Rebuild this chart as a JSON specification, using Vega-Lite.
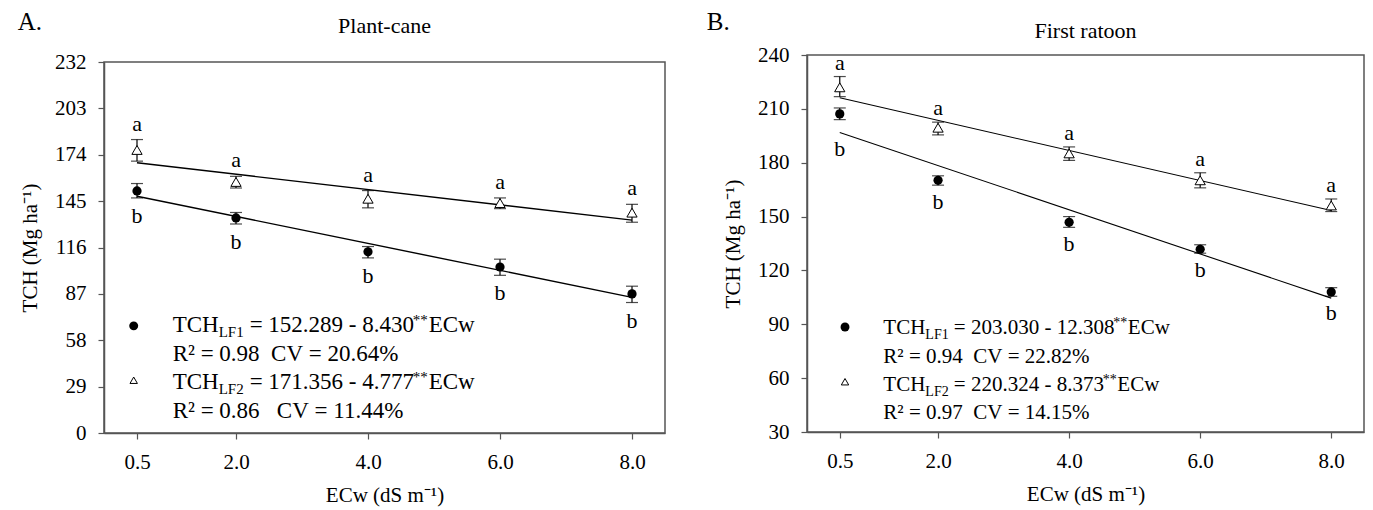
{
  "$schema": "https://vega.github.io/schema/vega-lite/v6.json",
  "background": "white",
  "padding": {"left": 17, "top": 10, "right": 5, "bottom": 2},
  "config": {
    "font": "Liberation Serif",
    "view": {"stroke": "#555555", "strokeWidth": 1.5},
    "axis": {
      "labelFont": "Liberation Serif", "titleFont": "Liberation Serif",
      "labelFontSize": 21, "titleFontSize": 21, "titleFontWeight": "normal",
      "labelColor": "black", "titleColor": "black",
      "domainColor": "#555555", "domainWidth": 1.5, "tickColor": "#555555", "tickWidth": 1.2,
      "tickSize": 6, "grid": false, "labelPadding": 12
    },
    "text": {"font": "Liberation Serif", "fill": "black"},
    "title": {"font": "Liberation Serif", "fontWeight": "normal", "fontSize": 22, "color": "black"}
  },
  "datasets": {
    "pts": [
      {"panel": "A", "lf": "LF1", "ecw": 0.5, "mean": 151.4, "lo": 147.0, "hi": 156.0, "letter": "b"},
      {"panel": "A", "lf": "LF1", "ecw": 2.0, "mean": 134.5, "lo": 130.7, "hi": 137.9, "letter": "b"},
      {"panel": "A", "lf": "LF1", "ecw": 4.0, "mean": 113.3, "lo": 109.5, "hi": 116.6, "letter": "b"},
      {"panel": "A", "lf": "LF1", "ecw": 6.0, "mean": 103.8, "lo": 98.6, "hi": 108.7, "letter": "b"},
      {"panel": "A", "lf": "LF1", "ecw": 8.0, "mean": 87.0, "lo": 81.6, "hi": 91.8, "letter": "b"},
      {"panel": "A", "lf": "LF2", "ecw": 0.5, "mean": 177.0, "lo": 170.0, "hi": 183.5, "letter": "a"},
      {"panel": "A", "lf": "LF2", "ecw": 2.0, "mean": 157.0, "lo": 153.2, "hi": 160.5, "letter": "a"},
      {"panel": "A", "lf": "LF2", "ecw": 4.0, "mean": 146.5, "lo": 140.8, "hi": 151.6, "letter": "a"},
      {"panel": "A", "lf": "LF2", "ecw": 6.0, "mean": 143.8, "lo": 140.3, "hi": 147.0, "letter": "a"},
      {"panel": "A", "lf": "LF2", "ecw": 8.0, "mean": 137.8, "lo": 131.8, "hi": 143.0, "letter": "a"},
      {"panel": "B", "lf": "LF1", "ecw": 0.5, "mean": 207.2, "lo": 204.0, "hi": 210.5, "letter": "b"},
      {"panel": "B", "lf": "LF1", "ecw": 2.0, "mean": 170.2, "lo": 167.5, "hi": 172.7, "letter": "b"},
      {"panel": "B", "lf": "LF1", "ecw": 4.0, "mean": 146.8, "lo": 144.0, "hi": 150.0, "letter": "b"},
      {"panel": "B", "lf": "LF1", "ecw": 6.0, "mean": 131.8, "lo": 129.6, "hi": 134.3, "letter": "b"},
      {"panel": "B", "lf": "LF1", "ecw": 8.0, "mean": 108.0, "lo": 105.6, "hi": 110.4, "letter": "b"},
      {"panel": "B", "lf": "LF2", "ecw": 0.5, "mean": 222.0, "lo": 216.8, "hi": 228.0, "letter": "a"},
      {"panel": "B", "lf": "LF2", "ecw": 2.0, "mean": 199.5, "lo": 195.5, "hi": 202.6, "letter": "a"},
      {"panel": "B", "lf": "LF2", "ecw": 4.0, "mean": 185.2, "lo": 181.3, "hi": 188.8, "letter": "a"},
      {"panel": "B", "lf": "LF2", "ecw": 6.0, "mean": 170.2, "lo": 166.0, "hi": 174.4, "letter": "a"},
      {"panel": "B", "lf": "LF2", "ecw": 8.0, "mean": 156.2, "lo": 152.8, "hi": 159.8, "letter": "a"}
    ],
    "fit": [
      {"panel": "A", "lf": "LF1", "ecw": 0.5, "fit": 148.07},
      {"panel": "A", "lf": "LF1", "ecw": 8.0, "fit": 84.85},
      {"panel": "A", "lf": "LF2", "ecw": 0.5, "fit": 168.97},
      {"panel": "A", "lf": "LF2", "ecw": 8.0, "fit": 133.14},
      {"panel": "B", "lf": "LF1", "ecw": 0.5, "fit": 196.88},
      {"panel": "B", "lf": "LF1", "ecw": 8.0, "fit": 104.57},
      {"panel": "B", "lf": "LF2", "ecw": 0.5, "fit": 216.14},
      {"panel": "B", "lf": "LF2", "ecw": 8.0, "fit": 153.34}
    ],
    "leg": [
      {"panel": "A", "base": ["TCH", "R²\u00a0=\u00a00.98\u00a0\u00a0CV\u00a0=\u00a020.64%", "TCH", "R²\u00a0=\u00a00.86\u00a0\u00a0\u00a0CV\u00a0=\u00a011.44%"], "sub1": "LF1", "sub2": "LF2", "eq1": "=\u00a0152.289\u00a0-\u00a08.430", "eq2": "=\u00a0171.356\u00a0-\u00a04.777", "sig": "**", "var": "ECw"},
      {"panel": "B", "base": ["TCH", "R²\u00a0=\u00a00.94\u00a0\u00a0CV\u00a0=\u00a022.82%", "TCH", "R²\u00a0=\u00a00.97\u00a0\u00a0CV\u00a0=\u00a014.15%"], "sub1": "LF1", "sub2": "LF2", "eq1": "=\u00a0203.030\u00a0-\u00a012.308", "eq2": "=\u00a0220.324\u00a0-\u00a08.373", "sig": "**", "var": "ECw"}
    ]
  },
  "spacing": 40,
  "hconcat": [
    {
      "title": {"text": "A.", "anchor": "start", "fontSize": 25, "offset": -20, "dx": -1},
      "spacing": -6,
      "vconcat": [
        {
          "width": 561, "height": 1,
          "view": {"stroke": null},
          "title": {"text": "Plant-cane", "offset": 17},
          "data": {"values": []},
          "mark": "point"
        },
        {
          "width": 561, "height": 371,
          "layer": [
            {
              "data": {"name": "pts"},
              "transform": [{"filter": "datum.panel === 'A'"}],
              "mark": {"type": "rule", "color": "black", "strokeWidth": 1.2},
              "encoding": {
                "x": {"field": "ecw", "type": "quantitative", "title": "ECw (dS m⁻¹)", "scale": {"domain": [0, 8.5], "nice": false, "zero": false}, "axis": {"values": [0.5, 2, 4, 6, 8], "format": ".1f", "titlePadding": 12}},
                "y": {"field": "lo", "type": "quantitative", "title": "TCH (Mg ha⁻¹)", "scale": {"domain": [0, 232], "nice": false}, "axis": {"values": [0, 29, 58, 87, 116, 145, 174, 203, 232], "titlePadding": 14}},
                "y2": {"field": "hi"}
              }
            },
            {
              "data": {"name": "pts"},
              "transform": [{"filter": "datum.panel === 'A'"}],
              "mark": {"type": "tick", "orient": "horizontal", "color": "black", "size": 12, "thickness": 1.2},
              "encoding": {"x": {"field": "ecw", "type": "quantitative", "title": "ECw (dS m⁻¹)"}, "y": {"field": "lo", "type": "quantitative", "title": "TCH (Mg ha⁻¹)"}}
            },
            {
              "data": {"name": "pts"},
              "transform": [{"filter": "datum.panel === 'A'"}],
              "mark": {"type": "tick", "orient": "horizontal", "color": "black", "size": 12, "thickness": 1.2},
              "encoding": {"x": {"field": "ecw", "type": "quantitative", "title": "ECw (dS m⁻¹)"}, "y": {"field": "hi", "type": "quantitative", "title": "TCH (Mg ha⁻¹)"}}
            },
            {
              "data": {"name": "fit"},
              "transform": [{"filter": "datum.panel === 'A'"}],
              "mark": {"type": "line", "color": "black", "strokeWidth": 1.4},
              "encoding": {"x": {"field": "ecw", "type": "quantitative", "title": "ECw (dS m⁻¹)"}, "y": {"field": "fit", "type": "quantitative", "title": "TCH (Mg ha⁻¹)"}, "detail": {"field": "lf"}}
            },
            {
              "data": {"name": "pts"},
              "transform": [{"filter": "datum.panel === 'A' && datum.lf === 'LF1'"}],
              "mark": {"type": "point", "shape": "circle", "filled": true, "color": "black", "size": 85, "opacity": 1},
              "encoding": {"x": {"field": "ecw", "type": "quantitative", "title": "ECw (dS m⁻¹)"}, "y": {"field": "mean", "type": "quantitative", "title": "TCH (Mg ha⁻¹)"}}
            },
            {
              "data": {"name": "pts"},
              "transform": [{"filter": "datum.panel === 'A' && datum.lf === 'LF2'"}],
              "mark": {"type": "point", "shape": "triangle-up", "filled": true, "fill": "white", "stroke": "black", "strokeWidth": 1, "size": 105, "opacity": 1},
              "encoding": {"x": {"field": "ecw", "type": "quantitative", "title": "ECw (dS m⁻¹)"}, "y": {"field": "mean", "type": "quantitative", "title": "TCH (Mg ha⁻¹)"}}
            },
            {
              "data": {"name": "pts"},
              "transform": [{"filter": "datum.panel === 'A' && datum.lf === 'LF2'"}],
              "mark": {"type": "text", "fontSize": 22, "color": "black", "baseline": "middle", "dy": -16},
              "encoding": {"x": {"field": "ecw", "type": "quantitative", "title": "ECw (dS m⁻¹)"}, "y": {"field": "hi", "type": "quantitative", "title": "TCH (Mg ha⁻¹)"}, "text": {"field": "letter"}}
            },
            {
              "data": {"name": "pts"},
              "transform": [{"filter": "datum.panel === 'A' && datum.lf === 'LF1'"}],
              "mark": {"type": "text", "fontSize": 22, "color": "black", "baseline": "middle", "dy": 18},
              "encoding": {"x": {"field": "ecw", "type": "quantitative", "title": "ECw (dS m⁻¹)"}, "y": {"field": "lo", "type": "quantitative", "title": "TCH (Mg ha⁻¹)"}, "text": {"field": "letter"}}
            },
            {
              "data": {"name": "leg"},
              "transform": [{"filter": "datum.panel === 'A'"}],
              "mark": {"type": "point", "shape": "circle", "filled": true, "color": "black", "size": 80, "opacity": 1},
              "encoding": {"x": {"datum": 0.45, "type": "quantitative", "title": "ECw (dS m⁻¹)"}, "y": {"datum": 67, "type": "quantitative", "title": "TCH (Mg ha⁻¹)"}}
            },
            {
              "data": {"name": "leg"},
              "transform": [{"filter": "datum.panel === 'A'"}],
              "mark": {"type": "point", "shape": "triangle-up", "filled": true, "fill": "white", "stroke": "black", "strokeWidth": 1, "size": 55, "opacity": 1},
              "encoding": {"x": {"datum": 0.45, "type": "quantitative", "title": "ECw (dS m⁻¹)"}, "y": {"datum": 33, "type": "quantitative", "title": "TCH (Mg ha⁻¹)"}}
            },
            {
              "data": {"name": "leg"},
              "transform": [{"filter": "datum.panel === 'A'"}],
              "mark": {"type": "text", "align": "left", "baseline": "top", "fontSize": 23, "lineHeight": 28.4, "color": "black"},
              "encoding": {"x": {"datum": 1.04, "type": "quantitative", "title": "ECw (dS m⁻¹)"}, "y": {"datum": 74.2, "type": "quantitative", "title": "TCH (Mg ha⁻¹)"}, "text": {"field": "base"}}
            },
            {
              "data": {"name": "leg"},
              "transform": [{"filter": "datum.panel === 'A'"}],
              "mark": {"type": "text", "align": "left", "baseline": "top", "fontSize": 15, "color": "black", "dx": 46, "dy": 11},
              "encoding": {"x": {"datum": 1.04, "type": "quantitative", "title": "ECw (dS m⁻¹)"}, "y": {"datum": 74.2, "type": "quantitative", "title": "TCH (Mg ha⁻¹)"}, "text": {"field": "sub1"}}
            },
            {
              "data": {"name": "leg"},
              "transform": [{"filter": "datum.panel === 'A'"}],
              "mark": {"type": "text", "align": "left", "baseline": "top", "fontSize": 15, "color": "black", "dx": 46, "dy": 11},
              "encoding": {"x": {"datum": 1.04, "type": "quantitative", "title": "ECw (dS m⁻¹)"}, "y": {"datum": 38.68, "type": "quantitative", "title": "TCH (Mg ha⁻¹)"}, "text": {"field": "sub2"}}
            },
            {
              "data": {"name": "leg"},
              "transform": [{"filter": "datum.panel === 'A'"}],
              "mark": {"type": "text", "align": "left", "baseline": "top", "fontSize": 23, "color": "black", "dx": 77},
              "encoding": {"x": {"datum": 1.04, "type": "quantitative", "title": "ECw (dS m⁻¹)"}, "y": {"datum": 74.2, "type": "quantitative", "title": "TCH (Mg ha⁻¹)"}, "text": {"field": "eq1"}}
            },
            {
              "data": {"name": "leg"},
              "transform": [{"filter": "datum.panel === 'A'"}],
              "mark": {"type": "text", "align": "left", "baseline": "top", "fontSize": 23, "color": "black", "dx": 77},
              "encoding": {"x": {"datum": 1.04, "type": "quantitative", "title": "ECw (dS m⁻¹)"}, "y": {"datum": 38.68, "type": "quantitative", "title": "TCH (Mg ha⁻¹)"}, "text": {"field": "eq2"}}
            },
            {
              "data": {"name": "leg"},
              "transform": [{"filter": "datum.panel === 'A'"}],
              "mark": {"type": "text", "align": "left", "baseline": "top", "fontSize": 15, "color": "black", "fill": "black", "dx": 240, "dy": -1},
              "encoding": {"x": {"datum": 1.04, "type": "quantitative", "title": "ECw (dS m⁻¹)"}, "y": {"datum": 74.2, "type": "quantitative", "title": "TCH (Mg ha⁻¹)"}, "text": {"field": "sig"}}
            },
            {
              "data": {"name": "leg"},
              "transform": [{"filter": "datum.panel === 'A'"}],
              "mark": {"type": "text", "align": "left", "baseline": "top", "fontSize": 15, "color": "black", "fill": "black", "dx": 240, "dy": -1},
              "encoding": {"x": {"datum": 1.04, "type": "quantitative", "title": "ECw (dS m⁻¹)"}, "y": {"datum": 38.68, "type": "quantitative", "title": "TCH (Mg ha⁻¹)"}, "text": {"field": "sig"}}
            },
            {
              "data": {"name": "leg"},
              "transform": [{"filter": "datum.panel === 'A'"}],
              "mark": {"type": "text", "align": "left", "baseline": "top", "fontSize": 23, "color": "black", "dx": 256},
              "encoding": {"x": {"datum": 1.04, "type": "quantitative", "title": "ECw (dS m⁻¹)"}, "y": {"datum": 74.2, "type": "quantitative", "title": "TCH (Mg ha⁻¹)"}, "text": {"field": "var"}}
            },
            {
              "data": {"name": "leg"},
              "transform": [{"filter": "datum.panel === 'A'"}],
              "mark": {"type": "text", "align": "left", "baseline": "top", "fontSize": 23, "color": "black", "dx": 256},
              "encoding": {"x": {"datum": 1.04, "type": "quantitative", "title": "ECw (dS m⁻¹)"}, "y": {"datum": 38.68, "type": "quantitative", "title": "TCH (Mg ha⁻¹)"}, "text": {"field": "var"}}
            }
          ]
        }
      ]
    },
    {
      "title": {"text": "B.", "anchor": "start", "fontSize": 25, "offset": -16, "dx": -15},
      "vconcat": [
        {
          "width": 557, "height": 377,
          "title": {"text": "First ratoon", "offset": 1},
          "layer": [
            {
              "data": {"name": "pts"},
              "transform": [{"filter": "datum.panel === 'B'"}],
              "mark": {"type": "rule", "color": "black", "strokeWidth": 1.2},
              "encoding": {
                "x": {"field": "ecw", "type": "quantitative", "title": "ECw (dS m⁻¹)", "scale": {"domain": [0, 8.5], "nice": false, "zero": false}, "axis": {"values": [0.5, 2, 4, 6, 8], "format": ".1f", "titlePadding": 12}},
                "y": {"field": "lo", "type": "quantitative", "title": "TCH (Mg ha⁻¹)", "scale": {"domain": [30, 240], "nice": false, "zero": false}, "axis": {"values": [30, 60, 90, 120, 150, 180, 210, 240], "titlePadding": 14}},
                "y2": {"field": "hi"}
              }
            },
            {
              "data": {"name": "pts"},
              "transform": [{"filter": "datum.panel === 'B'"}],
              "mark": {"type": "tick", "orient": "horizontal", "color": "black", "size": 12, "thickness": 1.2},
              "encoding": {"x": {"field": "ecw", "type": "quantitative", "title": "ECw (dS m⁻¹)"}, "y": {"field": "lo", "type": "quantitative", "title": "TCH (Mg ha⁻¹)"}}
            },
            {
              "data": {"name": "pts"},
              "transform": [{"filter": "datum.panel === 'B'"}],
              "mark": {"type": "tick", "orient": "horizontal", "color": "black", "size": 12, "thickness": 1.2},
              "encoding": {"x": {"field": "ecw", "type": "quantitative", "title": "ECw (dS m⁻¹)"}, "y": {"field": "hi", "type": "quantitative", "title": "TCH (Mg ha⁻¹)"}}
            },
            {
              "data": {"name": "fit"},
              "transform": [{"filter": "datum.panel === 'B'"}],
              "mark": {"type": "line", "color": "black", "strokeWidth": 1.1},
              "encoding": {"x": {"field": "ecw", "type": "quantitative", "title": "ECw (dS m⁻¹)"}, "y": {"field": "fit", "type": "quantitative", "title": "TCH (Mg ha⁻¹)"}, "detail": {"field": "lf"}}
            },
            {
              "data": {"name": "pts"},
              "transform": [{"filter": "datum.panel === 'B' && datum.lf === 'LF1'"}],
              "mark": {"type": "point", "shape": "circle", "filled": true, "color": "black", "size": 85, "opacity": 1},
              "encoding": {"x": {"field": "ecw", "type": "quantitative", "title": "ECw (dS m⁻¹)"}, "y": {"field": "mean", "type": "quantitative", "title": "TCH (Mg ha⁻¹)"}}
            },
            {
              "data": {"name": "pts"},
              "transform": [{"filter": "datum.panel === 'B' && datum.lf === 'LF2'"}],
              "mark": {"type": "point", "shape": "triangle-up", "filled": true, "fill": "white", "stroke": "black", "strokeWidth": 1, "size": 105, "opacity": 1},
              "encoding": {"x": {"field": "ecw", "type": "quantitative", "title": "ECw (dS m⁻¹)"}, "y": {"field": "mean", "type": "quantitative", "title": "TCH (Mg ha⁻¹)"}}
            },
            {
              "data": {"name": "pts"},
              "transform": [{"filter": "datum.panel === 'B' && datum.lf === 'LF2'"}],
              "mark": {"type": "text", "fontSize": 22, "color": "black", "baseline": "middle", "dy": -14},
              "encoding": {"x": {"field": "ecw", "type": "quantitative", "title": "ECw (dS m⁻¹)"}, "y": {"field": "hi", "type": "quantitative", "title": "TCH (Mg ha⁻¹)"}, "text": {"field": "letter"}}
            },
            {
              "data": {"name": "pts"},
              "transform": [{"filter": "datum.panel === 'B' && datum.lf === 'LF1' && datum.ecw > 1"}],
              "mark": {"type": "text", "fontSize": 22, "color": "black", "baseline": "middle", "dy": 17},
              "encoding": {"x": {"field": "ecw", "type": "quantitative", "title": "ECw (dS m⁻¹)"}, "y": {"field": "lo", "type": "quantitative", "title": "TCH (Mg ha⁻¹)"}, "text": {"field": "letter"}}
            },
            {
              "data": {"name": "pts"},
              "transform": [{"filter": "datum.panel === 'B' && datum.lf === 'LF1' && datum.ecw < 1"}],
              "mark": {"type": "text", "fontSize": 22, "color": "black", "baseline": "middle", "dy": 29},
              "encoding": {"x": {"field": "ecw", "type": "quantitative", "title": "ECw (dS m⁻¹)"}, "y": {"field": "lo", "type": "quantitative", "title": "TCH (Mg ha⁻¹)"}, "text": {"field": "letter"}}
            },
            {
              "data": {"name": "leg"},
              "transform": [{"filter": "datum.panel === 'B'"}],
              "mark": {"type": "point", "shape": "circle", "filled": true, "color": "black", "size": 80, "opacity": 1},
              "encoding": {"x": {"datum": 0.58, "type": "quantitative", "title": "ECw (dS m⁻¹)"}, "y": {"datum": 88.5, "type": "quantitative", "title": "TCH (Mg ha⁻¹)"}}
            },
            {
              "data": {"name": "leg"},
              "transform": [{"filter": "datum.panel === 'B'"}],
              "mark": {"type": "point", "shape": "triangle-up", "filled": true, "fill": "white", "stroke": "black", "strokeWidth": 1, "size": 55, "opacity": 1},
              "encoding": {"x": {"datum": 0.58, "type": "quantitative", "title": "ECw (dS m⁻¹)"}, "y": {"datum": 58, "type": "quantitative", "title": "TCH (Mg ha⁻¹)"}}
            },
            {
              "data": {"name": "leg"},
              "transform": [{"filter": "datum.panel === 'B'"}],
              "mark": {"type": "text", "align": "left", "baseline": "top", "fontSize": 21, "lineHeight": 28.4, "color": "black"},
              "encoding": {"x": {"datum": 1.165, "type": "quantitative", "title": "ECw (dS m⁻¹)"}, "y": {"datum": 93.9, "type": "quantitative", "title": "TCH (Mg ha⁻¹)"}, "text": {"field": "base"}}
            },
            {
              "data": {"name": "leg"},
              "transform": [{"filter": "datum.panel === 'B'"}],
              "mark": {"type": "text", "align": "left", "baseline": "top", "fontSize": 14, "color": "black", "dx": 42, "dy": 10.5},
              "encoding": {"x": {"datum": 1.165, "type": "quantitative", "title": "ECw (dS m⁻¹)"}, "y": {"datum": 93.9, "type": "quantitative", "title": "TCH (Mg ha⁻¹)"}, "text": {"field": "sub1"}}
            },
            {
              "data": {"name": "leg"},
              "transform": [{"filter": "datum.panel === 'B'"}],
              "mark": {"type": "text", "align": "left", "baseline": "top", "fontSize": 14, "color": "black", "dx": 42, "dy": 10.5},
              "encoding": {"x": {"datum": 1.165, "type": "quantitative", "title": "ECw (dS m⁻¹)"}, "y": {"datum": 62.26, "type": "quantitative", "title": "TCH (Mg ha⁻¹)"}, "text": {"field": "sub2"}}
            },
            {
              "data": {"name": "leg"},
              "transform": [{"filter": "datum.panel === 'B'"}],
              "mark": {"type": "text", "align": "left", "baseline": "top", "fontSize": 21, "color": "black", "dx": 70.5},
              "encoding": {"x": {"datum": 1.165, "type": "quantitative", "title": "ECw (dS m⁻¹)"}, "y": {"datum": 93.9, "type": "quantitative", "title": "TCH (Mg ha⁻¹)"}, "text": {"field": "eq1"}}
            },
            {
              "data": {"name": "leg"},
              "transform": [{"filter": "datum.panel === 'B'"}],
              "mark": {"type": "text", "align": "left", "baseline": "top", "fontSize": 21, "color": "black", "dx": 70.5},
              "encoding": {"x": {"datum": 1.165, "type": "quantitative", "title": "ECw (dS m⁻¹)"}, "y": {"datum": 62.26, "type": "quantitative", "title": "TCH (Mg ha⁻¹)"}, "text": {"field": "eq2"}}
            },
            {
              "data": {"name": "leg"},
              "transform": [{"filter": "datum.panel === 'B'"}],
              "mark": {"type": "text", "align": "left", "baseline": "top", "fontSize": 14, "color": "black", "fill": "black", "dx": 230, "dy": -1.5},
              "encoding": {"x": {"datum": 1.165, "type": "quantitative", "title": "ECw (dS m⁻¹)"}, "y": {"datum": 93.9, "type": "quantitative", "title": "TCH (Mg ha⁻¹)"}, "text": {"field": "sig"}}
            },
            {
              "data": {"name": "leg"},
              "transform": [{"filter": "datum.panel === 'B'"}],
              "mark": {"type": "text", "align": "left", "baseline": "top", "fontSize": 21, "color": "black", "dx": 244.5},
              "encoding": {"x": {"datum": 1.165, "type": "quantitative", "title": "ECw (dS m⁻¹)"}, "y": {"datum": 93.9, "type": "quantitative", "title": "TCH (Mg ha⁻¹)"}, "text": {"field": "var"}}
            },
            {
              "data": {"name": "leg"},
              "transform": [{"filter": "datum.panel === 'B'"}],
              "mark": {"type": "text", "align": "left", "baseline": "top", "fontSize": 14, "color": "black", "fill": "black", "dx": 219.5, "dy": -1.5},
              "encoding": {"x": {"datum": 1.165, "type": "quantitative", "title": "ECw (dS m⁻¹)"}, "y": {"datum": 62.26, "type": "quantitative", "title": "TCH (Mg ha⁻¹)"}, "text": {"field": "sig"}}
            },
            {
              "data": {"name": "leg"},
              "transform": [{"filter": "datum.panel === 'B'"}],
              "mark": {"type": "text", "align": "left", "baseline": "top", "fontSize": 21, "color": "black", "dx": 234},
              "encoding": {"x": {"datum": 1.165, "type": "quantitative", "title": "ECw (dS m⁻¹)"}, "y": {"datum": 62.26, "type": "quantitative", "title": "TCH (Mg ha⁻¹)"}, "text": {"field": "var"}}
            }
          ]
        }
      ]
    }
  ]
}
